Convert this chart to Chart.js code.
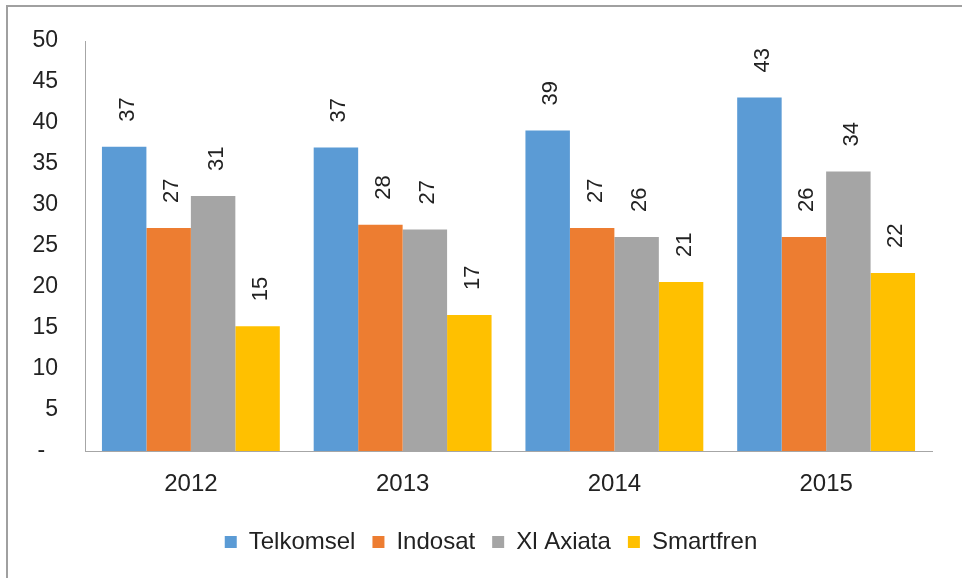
<!DOCTYPE html>
<html>
<head>
<meta charset="utf-8">
<script src="https://cdn.jsdelivr.net/npm/chart.js@4.4.1/dist/chart.umd.min.js"></script>
<style>
  html, body { margin: 0; padding: 0; background: #fff; }
  #wrap { width: 962px; height: 578px; position: relative; }
</style>
</head>
<body>
<div id="wrap"><canvas id="c" width="962" height="578"></canvas></div>
<script>
const years = ['2012', '2013', '2014', '2015'];
const telkomsel = [37.1, 37.0, 39.1, 43.1];
const indosat = [27.2, 27.6, 27.2, 26.1];
const xlAxiata = [31.1, 27.0, 26.1, 34.1];
const smartfren = [15.2, 16.6, 20.6, 21.7];

const textColor = '#222';
const fontFam = '"Liberation Sans", Arial, sans-serif';

// rotated value labels above each bar
const valueLabels = {
    id: 'valueLabels',
    afterDatasetsDraw(chart) {
        const ctx = chart.ctx;
        ctx.save();
        ctx.fillStyle = textColor;
        ctx.font = '22px ' + fontFam;
        ctx.textAlign = 'left';
        ctx.textBaseline = 'alphabetic';
        chart.data.datasets.forEach((ds, i) => {
            chart.getDatasetMeta(i).data.forEach((bar, j) => {
                ctx.save();
                ctx.translate(bar.x + 9.5, bar.y - 25);
                ctx.rotate(-Math.PI / 2);
                ctx.fillText(String(Math.round(ds.data[j])), 0, 0);
                ctx.restore();
            });
        });
        ctx.restore();
    }
};

// thin frame on the left and top like the source image,
// and nudge the legend a bit right so it sits where the original one does
const frame = {
    id: 'frame',
    afterLayout(chart) {
        chart.legend.left += 15;
        chart.legend.right += 15;
    },
    afterDraw(chart) {
        const ctx = chart.ctx;
        ctx.save();
        ctx.strokeStyle = '#a0a0a0';
        ctx.lineWidth = 2;
        ctx.beginPath();
        ctx.moveTo(7, 578);
        ctx.lineTo(7, 6);
        ctx.lineTo(962, 6);
        ctx.stroke();
        ctx.restore();
    }
};

new Chart(document.getElementById('c'), {
    type: 'bar',
    data: {
        labels: years,
        datasets: [
            { label: 'Telkomsel', data: telkomsel, backgroundColor: '#5B9BD5' },
            { label: 'Indosat', data: indosat, backgroundColor: '#ED7D31' },
            { label: 'Xl Axiata', data: xlAxiata, backgroundColor: '#A5A5A5' },
            { label: 'Smartfren', data: smartfren, backgroundColor: '#FFC000' }
        ]
    },
    options: {
        responsive: false,
        animation: false,
        datasets: { bar: { barPercentage: 1, categoryPercentage: 0.84 } },
        layout: { padding: { left: 20, right: 30, top: 41, bottom: 14 } },
        scales: {
            x: {
                grid: { display: false },
                border: { display: true, color: '#a6a6a6', width: 1 },
                ticks: { color: textColor, font: { family: fontFam, size: 24 }, padding: 11 },
                afterFit(s) { s.height = 62; }
            },
            y: {
                min: 0, max: 50,
                grid: { display: false },
                border: { display: true, color: '#a6a6a6', width: 1 },
                ticks: {
                    stepSize: 5,
                    color: textColor,
                    font: { family: fontFam, size: 23 },
                    padding: 19,
                    callback: v => v === 0 ? '-  ' : String(v)
                },
                afterFit(s) { s.width = 65; }
            }
        },
        plugins: {
            legend: {
                position: 'bottom',
                labels: {
                    color: textColor,
                    font: { family: fontFam, size: 24 },
                    boxWidth: 12,
                    boxHeight: 12,
                    padding: 17
                }
            },
            tooltip: { enabled: false }
        }
    },
    plugins: [valueLabels, frame]
});
</script>
</body>
</html>
